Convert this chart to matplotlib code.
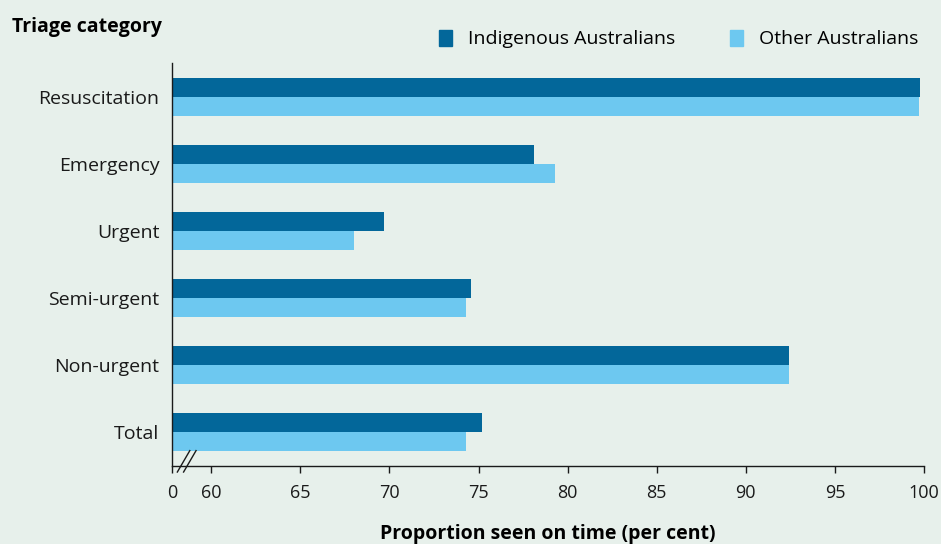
import numpy as np
import matplotlib
matplotlib.use('Agg')
import matplotlib.pyplot as plt
from matplotlib.patches import Patch

categories = ['Resuscitation', 'Emergency', 'Urgent', 'Semi-urgent', 'Non-urgent', 'Total']
indigenous = [99.8, 78.1, 69.7, 74.6, 92.4, 75.2]
other = [99.7, 79.3, 68.0, 74.3, 92.4, 74.3]
tick_vals = [60, 65, 70, 75, 80, 85, 90, 95, 100]

dark = '#03679a'
light = '#6dc8f0'
bg = '#e7f0eb'

plt.rcParams['font.family'] = ['Open Sans', 'DejaVu Sans']

fig = plt.figure(figsize=(9.41, 5.44), dpi=100, facecolor=bg)
ax = fig.add_axes([172 / 941, 1 - 466 / 544, (924 - 172) / 941, (466 - 63) / 544])
ax.set_facecolor(bg)

# broken axis: the "0" sits a little left of 60
x0 = 57.8
y = np.arange(len(categories))
h = 0.285
ax.barh(y - h / 2, np.array(indigenous) - x0, left=x0, height=h, color=dark)
ax.barh(y + h / 2, np.array(other) - x0, left=x0, height=h, color=light)

ax.set_xlim(x0, 100)
ax.set_ylim(5.51, -0.51)
ax.set_xticks([x0] + tick_vals)
ax.set_xticklabels(['0'] + [str(v) for v in tick_vals])
ax.set_yticks(y)
ax.set_yticklabels(categories)
ax.tick_params(axis='x', length=5, width=1, labelsize=13, pad=8, colors='#1a1a1a')
ax.tick_params(axis='y', length=0, labelsize=14, pad=9, colors='#1a1a1a')
for s in ['top', 'right']:
    ax.spines[s].set_visible(False)
for s in ['left', 'bottom']:
    ax.spines[s].set_linewidth(1)
    ax.spines[s].set_color('#1a1a1a')

# break marks
for dx in [0, 0.35]:
    ax.plot([x0 + 0.3 + dx, x0 + 1.0 + dx], [5.6, 5.28], color='#1a1a1a', lw=1,
            clip_on=False, transform=ax.transData)

ax.set_xlabel('Proportion seen on time (per cent)', fontsize=14, fontweight='bold')
ax.xaxis.set_label_coords(0.5, -0.145)

fig.text(12 / 941, 1 - 27 / 544, 'Triage category', fontsize=14, fontweight='bold', va='center')

handles = [Patch(color=dark, label='Indigenous Australians'),
           Patch(color=light, label='Other Australians')]
fig.legend(handles=handles, loc='center right', bbox_to_anchor=(926 / 941, 1 - 39 / 544), ncol=2,
           frameon=False, fontsize=14, handlelength=0.7, handleheight=0.9,
           handletextpad=0.8, columnspacing=2.8, borderaxespad=0)

fig.savefig('out.png', dpi=100, facecolor=bg)
